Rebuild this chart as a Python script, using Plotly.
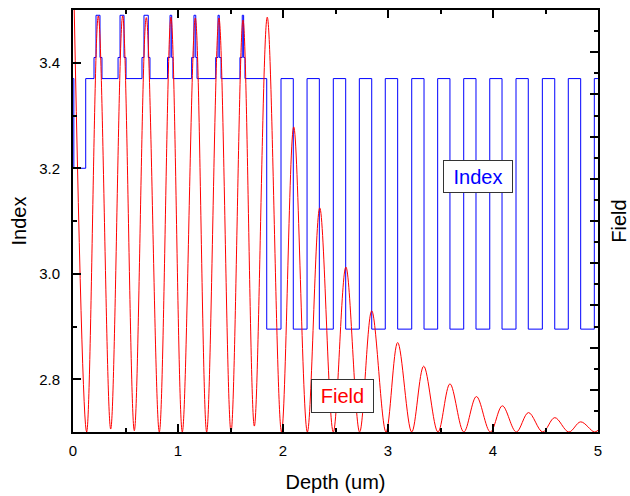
import plotly.graph_objects as go

# ---------------- data ----------------
# refractive-index profile: layer boundaries (um) and index of each layer
layer_edges = [0.000, 0.008, 0.121,
               0.200, 0.219, 0.257, 0.276,
               0.429, 0.448, 0.486, 0.505,
               0.657, 0.676, 0.717, 0.733,
               0.900, 0.924, 0.940, 0.952,
               1.130, 1.152, 1.169, 1.181,
               1.359, 1.381, 1.393, 1.410,
               1.590, 1.612, 1.625, 1.638,
               1.845, 1.981, 2.098, 2.229, 2.346, 2.479, 2.597, 2.727, 2.845,
               2.974, 3.092, 3.226, 3.343, 3.473, 3.590, 3.721, 3.838, 3.969,
               4.086, 4.219, 4.336, 4.470, 4.588, 4.717, 4.835, 4.965, 5.000]
layer_index = [3.37, 3.20, 3.37,
               3.41, 3.49, 3.41, 3.37,
               3.41, 3.49, 3.41, 3.37,
               3.41, 3.49, 3.41, 3.37,
               3.41, 3.49, 3.41, 3.37,
               3.41, 3.49, 3.41, 3.37,
               3.41, 3.49, 3.41, 3.37,
               3.41, 3.49, 3.41, 3.37,
               2.895, 3.37, 2.895, 3.37, 2.895, 3.37, 2.895, 3.37, 2.895,
               3.37, 2.895, 3.37, 2.895, 3.37, 2.895, 3.37, 2.895, 3.37,
               2.895, 3.37, 2.895, 3.37, 2.895, 3.37, 2.895, 3.37]

# optical field: depth (um) of the extrema
field_depth = [0.000, 0.130, 0.241, 0.359, 0.473, 0.584, 0.698, 0.822, 0.933,
               1.041, 1.165, 1.273, 1.390, 1.505, 1.619, 1.727, 1.850, 1.986,
               2.102, 2.232, 2.350, 2.479, 2.599, 2.730, 2.845, 2.981, 3.092,
               3.226, 3.340, 3.476, 3.590, 3.722, 3.842, 3.975, 4.089, 4.222,
               4.338, 4.474, 4.588, 4.722, 4.835, 4.965, 5.000]
field_value = [1.150, 0.000, 0.986, 0.007, 0.986, 0.003, 0.982, 0.000, 0.983,
               0.000, 0.981, 0.000, 0.981, 0.000, 0.976, 0.014, 0.983, 0.000,
               0.723, 0.000, 0.531, 0.000, 0.391, 0.000, 0.287, 0.000, 0.212,
               0.000, 0.156, 0.000, 0.114, 0.000, 0.084, 0.000, 0.062, 0.000,
               0.046, 0.000, 0.034, 0.000, 0.024, 0.000, 0.004]

x_tick_vals = [0, 1, 2, 3, 4, 5]
y_tick_vals = [2.8, 3.0, 3.2, 3.4]

FONT = "Liberation Sans, Arial, sans-serif"

fig = go.Figure()

fig.add_trace(go.Scatter(
    x=layer_edges, y=layer_index + [layer_index[-1]],
    mode="lines", line=dict(color="#0000FF", width=1, shape="hv"),
    name="Index", yaxis="y", hoverinfo="skip"))

fig.add_trace(go.Scatter(
    x=field_depth, y=field_value,
    mode="lines", line=dict(color="#FF0000", width=1, shape="spline", smoothing=1),
    name="Field", yaxis="y2", hoverinfo="skip"))

axis_common = dict(showline=True, linecolor="black", linewidth=2,
                   ticks="inside", tickcolor="black", tickwidth=2, ticklen=8,
                   showgrid=False, zeroline=False, automargin=False,
                   tickfont=dict(family=FONT, size=15, color="black"))

fig.update_layout(
    width=630, height=496,
    margin=dict(l=73, r=32, t=10, b=64),
    paper_bgcolor="white", plot_bgcolor="white",
    showlegend=False,
    font=dict(family=FONT, color="black"),
    xaxis=dict(range=[0, 5], tickvals=x_tick_vals, mirror="ticks",
               minor=dict(dtick=0.5, tick0=0, ticks="inside", ticklen=4,
                          tickcolor="black", tickwidth=2),
               title=dict(text="Depth (um)", font=dict(family=FONT, size=20), standoff=17),
               ticklabelstandoff=4,
               **axis_common),
    yaxis=dict(range=[2.7, 3.5], tickvals=y_tick_vals, tickformat=".1f",
               minor=dict(dtick=0.1, tick0=2.7, ticks="inside", ticklen=4,
                          tickcolor="black", tickwidth=2),
               title=dict(text="Index", font=dict(family=FONT, size=20), standoff=7),
               ticklabelstandoff=8,
               **axis_common),
    yaxis2=dict(range=[0, 1], overlaying="y", side="right", dtick=0.1, tick0=0,
                showticklabels=False,
                minor=dict(dtick=0.05, tick0=0, ticks="inside", ticklen=4,
                           tickcolor="black", tickwidth=2),
                title=dict(text="Field", font=dict(family=FONT, size=20), standoff=14),
                **axis_common),
)

fig.add_annotation(xref="paper", yref="paper", x=0.7705, y=0.6055,
                   xanchor="center", yanchor="middle",
                   text="Index", showarrow=False,
                   font=dict(family=FONT, size=20, color="#0000FF"),
                   bgcolor="white", bordercolor="#333333", borderwidth=1,
                   borderpad=1, width=66, height=29)
fig.add_annotation(xref="paper", yref="paper", x=0.5133, y=0.0846,
                   xanchor="center", yanchor="middle",
                   text="Field", showarrow=False,
                   font=dict(family=FONT, size=20, color="#FF0000"),
                   bgcolor="white", bordercolor="#333333", borderwidth=1,
                   borderpad=1, width=59, height=30)

fig.write_html("out.html")
